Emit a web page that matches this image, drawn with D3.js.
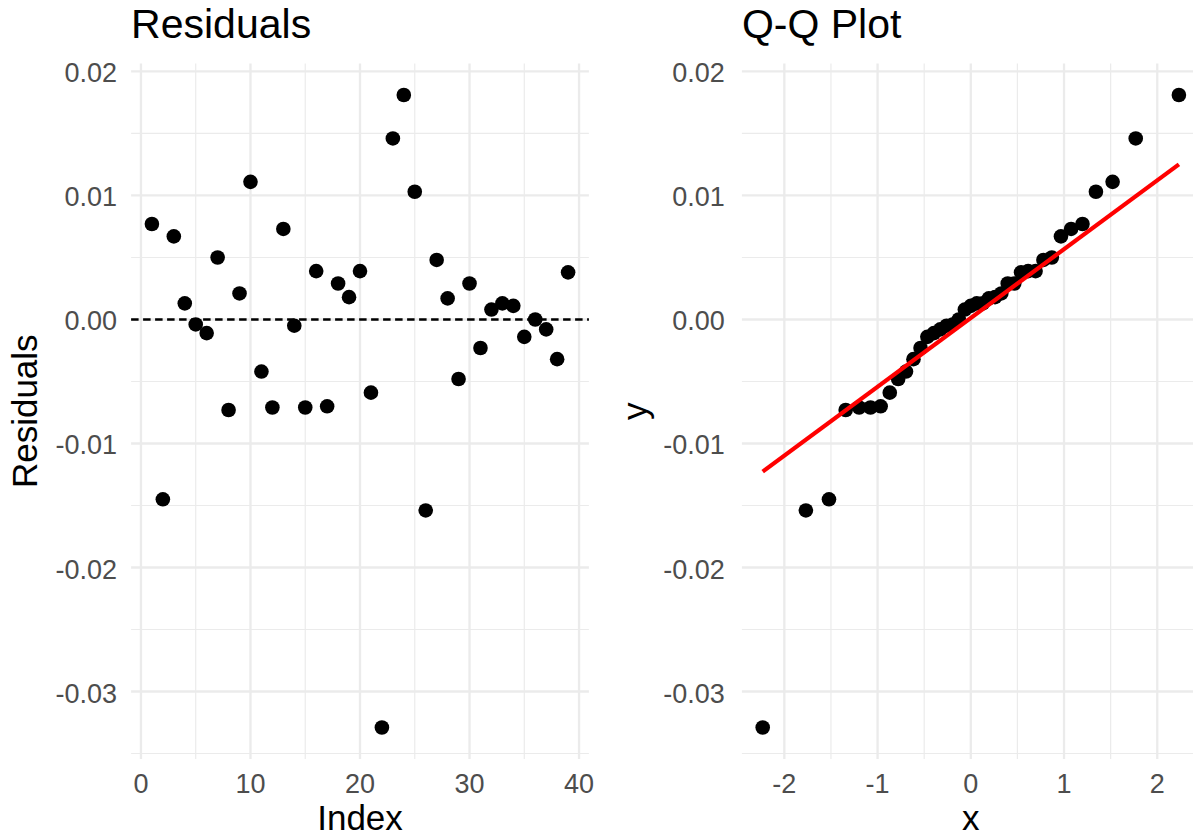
<!DOCTYPE html>
<html>
<head>
<meta charset="utf-8">
<script src="https://cdn.jsdelivr.net/npm/d3@7"></script>
<style>
  html, body { margin: 0; padding: 0; background: #ffffff; }
  svg { display: block; font-family: "Liberation Sans", Arial, Helvetica, sans-serif; }
</style>
</head>
<body>
<svg id="chart" width="1193" height="836"></svg>
<script>
// Model residuals, in observation order (index 1..39)
const residuals = [
  0.0077, -0.0145, 0.0067, 0.0013, -0.0004, -0.0011, 0.0050, -0.0073, 0.0021, 0.0111,
  -0.0042, -0.0071, 0.0073, -0.0005, -0.0071, 0.0039, -0.0070, 0.0029, 0.0018, 0.0039,
  -0.0059, -0.0329, 0.0146, 0.0181, 0.0103, -0.0154, 0.0048, 0.0017, -0.0048, 0.0029,
  -0.0023, 0.0008, 0.0013, 0.0011, -0.0014, 0.0000, -0.0008, -0.0032, 0.0038
];

// Standard normal quantiles at (i - 0.5) / 39
const theoreticalQuantiles = [
  -2.232, -1.769, -1.521, -1.342, -1.198, -1.076, -0.967, -0.869, -0.779, -0.695,
  -0.615, -0.539, -0.466, -0.396, -0.327, -0.260, -0.194, -0.129, -0.064, 0.000,
  0.064, 0.129, 0.194, 0.260, 0.327, 0.396, 0.466, 0.539, 0.615, 0.695,
  0.779, 0.869, 0.967, 1.076, 1.198, 1.342, 1.521, 1.769, 2.232
];

// Reference line of the Q-Q plot
const qqLineIntercept = 0.00012;
const qqLineSlope = 0.00555;

// Axis breaks
const yTicks = [-0.03, -0.02, -0.01, 0.00, 0.01, 0.02];
const yMinor = [-0.035, -0.025, -0.015, -0.005, 0.005, 0.015];
const indexTicks = [0, 10, 20, 30, 40];
const indexMinor = [5, 15, 25, 35];
const qqTicks = [-2, -1, 0, 1, 2];
const qqMinor = [-1.5, -0.5, 0.5, 1.5];

const svg = d3.select("#chart");
const panelTop = 63.4, panelBottom = 759.1;
const gridColor = "#EBEBEB";
const tickColor = "#4D4D4D";

// Padded domain (5% on each side), as for a ggplot continuous scale
function padded(lo, hi) {
  const pad = (hi - lo) * 0.05;
  return [lo - pad, hi + pad];
}

const yScale = d3.scaleLinear()
  .domain(padded(d3.min(residuals), d3.max(residuals)))
  .range([panelBottom, panelTop]);

const indexData = residuals.map((r, i) => ({ index: i + 1, value: r }));
const xIndex = d3.scaleLinear()
  .domain(padded(1, residuals.length))
  .range([131.1, 588.9]);

const sorted = residuals.slice().sort(d3.ascending);
const qqData = sorted.map((v, i) => ({ q: theoreticalQuantiles[i], value: v }));
const xQQ = d3.scaleLinear()
  .domain(padded(d3.min(theoreticalQuantiles), d3.max(theoreticalQuantiles)))
  .range([741.9, 1199.7]);

const fmt = d => d.toFixed(2);

function drawPanel(opts) {
  const g = svg.append("g");
  const x = opts.x, y = yScale;
  const [x0, x1] = x.range();

  // minor grid
  g.selectAll(".ymin").data(yMinor).join("line")
    .attr("x1", x0).attr("x2", x1)
    .attr("y1", d => y(d)).attr("y2", d => y(d))
    .attr("stroke", gridColor).attr("stroke-width", 1.2);
  g.selectAll(".xmin").data(opts.xMinor).join("line")
    .attr("x1", d => x(d)).attr("x2", d => x(d))
    .attr("y1", panelTop).attr("y2", panelBottom)
    .attr("stroke", gridColor).attr("stroke-width", 1.2);
  // major grid
  g.selectAll(".ymaj").data(yTicks).join("line")
    .attr("x1", x0).attr("x2", x1)
    .attr("y1", d => y(d)).attr("y2", d => y(d))
    .attr("stroke", gridColor).attr("stroke-width", 2.3);
  g.selectAll(".xmaj").data(opts.xTicks).join("line")
    .attr("x1", d => x(d)).attr("x2", d => x(d))
    .attr("y1", panelTop).attr("y2", panelBottom)
    .attr("stroke", gridColor).attr("stroke-width", 2.3);

  // y tick labels
  g.selectAll(".ylab").data(yTicks).join("text")
    .attr("x", x0 - opts.yLabelGap)
    .attr("y", d => y(d) + 11)
    .attr("text-anchor", "end")
    .attr("font-size", 27)
    .attr("fill", tickColor)
    .text(fmt);
  // x tick labels
  g.selectAll(".xlab").data(opts.xTicks).join("text")
    .attr("x", d => x(d))
    .attr("y", 793)
    .attr("text-anchor", "middle")
    .attr("font-size", 27)
    .attr("fill", tickColor)
    .text(d => d);

  // titles
  g.append("text")
    .attr("x", x0).attr("y", 38)
    .attr("font-size", 41)
    .attr("fill", "#000")
    .text(opts.title);
  g.append("text")
    .attr("x", (x0 + x1) / 2).attr("y", 830)
    .attr("text-anchor", "middle")
    .attr("font-size", 35)
    .attr("fill", "#000")
    .text(opts.xTitle);
  g.append("text")
    .attr("transform", `translate(${opts.yTitleX},${(panelTop + panelBottom) / 2}) rotate(-90)`)
    .attr("text-anchor", "middle")
    .attr("font-size", 35)
    .attr("fill", "#000")
    .text(opts.yTitle);

  return g;
}

// Left panel: residuals against index
const left = drawPanel({
  x: xIndex, xTicks: indexTicks, xMinor: indexMinor,
  title: "Residuals", xTitle: "Index", yTitle: "Residuals",
  yLabelGap: 14, yTitleX: 37
});
left.append("line")
  .attr("x1", xIndex.range()[0]).attr("x2", xIndex.range()[1])
  .attr("y1", yScale(0)).attr("y2", yScale(0))
  .attr("stroke", "#000").attr("stroke-width", 2.3)
  .attr("stroke-dasharray", "7.5,4.5");
left.selectAll("circle").data(indexData).join("circle")
  .attr("cx", d => xIndex(d.index))
  .attr("cy", d => yScale(d.value))
  .attr("r", 7.3)
  .attr("fill", "#000");

// Right panel: normal Q-Q plot
const right = drawPanel({
  x: xQQ, xTicks: qqTicks, xMinor: qqMinor,
  title: "Q-Q Plot", xTitle: "x", yTitle: "y",
  yLabelGap: 17, yTitleX: 647
});
right.selectAll("circle").data(qqData).join("circle")
  .attr("cx", d => xQQ(d.q))
  .attr("cy", d => yScale(d.value))
  .attr("r", 7.3)
  .attr("fill", "#000");
const qLo = d3.min(theoreticalQuantiles), qHi = d3.max(theoreticalQuantiles);
right.append("line")
  .attr("x1", xQQ(qLo)).attr("y1", yScale(qqLineIntercept + qqLineSlope * qLo))
  .attr("x2", xQQ(qHi)).attr("y2", yScale(qqLineIntercept + qqLineSlope * qHi))
  .attr("stroke", "#FF0000").attr("stroke-width", 4.2);
</script>
</body>
</html>
